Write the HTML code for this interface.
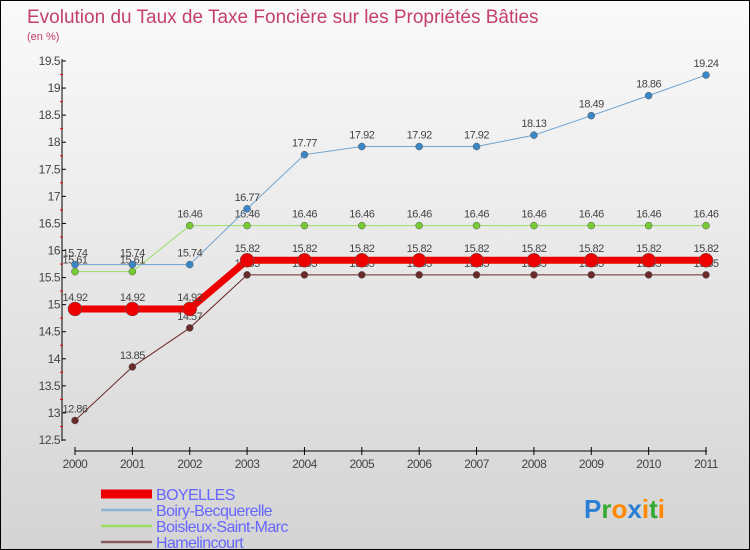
<!DOCTYPE html>
<html><head><meta charset="utf-8"><style>
body{margin:0;}
#c{width:748px;height:548px;border:1px solid #000;background:linear-gradient(#fafafa,#d4d4d4);position:relative;font-family:"Liberation Sans",sans-serif;overflow:hidden}
</style></head><body>
<div id="c">
<svg id="s" width="748" height="548" xmlns="http://www.w3.org/2000/svg"></svg>
</div>
<script>
const years=["2000","2001","2002","2003","2004","2005","2006","2007","2008","2009","2010","2011"];
const boyelles=[14.92,14.92,14.92,15.82,15.82,15.82,15.82,15.82,15.82,15.82,15.82,15.82];
const boiry=[15.74,15.74,15.74,16.77,17.77,17.92,17.92,17.92,18.13,18.49,18.86,19.24];
const boisleux=[15.61,15.61,16.46,16.46,16.46,16.46,16.46,16.46,16.46,16.46,16.46,16.46];
const hamel=[12.86,13.85,14.57,15.55,15.55,15.55,15.55,15.55,15.55,15.55,15.55,15.55];
const yTicks=["12.5","13","13.5","14","14.5","15","15.5","16","16.5","17","17.5","18","18.5","19","19.5"];
const names=["BOYELLES","Boiry-Becquerelle","Boisleux-Saint-Marc","Hamelincourt"];
const s=document.getElementById('s');const NS="http://www.w3.org/2000/svg";
function X(i){return 74+i*(705-74)/11;}
function Y(v){return 439-(v-12.5)*(439-60)/7;}
function el(t,a,p){const e=document.createElementNS(NS,t);for(const k in a)e.setAttribute(k,a[k]);(p||s).appendChild(e);return e;}
function tx(x,y,str,a){const e=el('text',Object.assign({x:x,y:y},a));e.textContent=str;return e;}
let t=tx(26,22,"Evolution du Taux de Taxe Foncière sur les Propriétés Bâties",{fill:"#c4406a","font-size":"19"});


t=tx(26,39,"(en %)",{fill:"#c4406a","font-size":"11"});


let ax=el('line',{x1:61,y1:58,x2:61,y2:440,stroke:"#000"});


yTicks.forEach((v,i)=>{const y=Y(+v);
el('line',{x1:61,y1:y,x2:65,y2:y,stroke:"#000"});
if(i<yTicks.length-1)el('line',{x1:59,y1:Y(+v+0.25),x2:62,y2:Y(+v+0.25),stroke:"#e00"});
const l=tx(59,y+4,v,{"text-anchor":"end","font-size":"12",fill:"#444","letter-spacing":"-0.5"});

});
ax=el('line',{x1:74,y1:450,x2:706,y2:450,stroke:"#000"});


years.forEach((y,i)=>{el('line',{x1:X(i),y1:446,x2:X(i),y2:454,stroke:"#000"});
const l=tx(X(i),467,y,{"text-anchor":"middle","font-size":"12",fill:"#444","letter-spacing":"-0.5"});

});
const series=[
 {d:hamel,c:"#6b2a2a",w:1,r:3.5,n:"hamelincourt"},
 {d:boisleux,c:"#99dd66",w:1,r:3.5,fill:"#77cc33",n:"boisleux"},
 {d:boiry,c:"#6fa3d0",w:1,r:3.5,fill:"#3a87c8",n:"boiry"},
 {d:boyelles,c:"#ee0000",w:7,r:7,n:"boyelles"}];
series.forEach(sr=>{
 const p=el('polyline',{points:sr.d.map((v,i)=>X(i)+","+Y(v)).join(" "),fill:"none",stroke:sr.c,"stroke-width":sr.w});
 
 
 sr.d.forEach((v,i)=>{const c=el('circle',{cx:X(i),cy:Y(v),r:sr.r,fill:sr.fill||sr.c,stroke:"#555","stroke-width":0.5});
  
  
  const l=tx(X(i),Y(v)-8,String(v),{"text-anchor":"middle","font-size":"11",fill:"#444","letter-spacing":"-0.5"});
  
  });
});
const lc=["#ee0000","#8ab4d4","#99dd66","#8b5a5a"],lw=[9,2.5,2.5,2.5];
names.forEach((n,i)=>{const y=493+i*16;
 el('line',{x1:100,y1:y,x2:151,y2:y,stroke:lc[i],"stroke-width":lw[i]});
 const l=tx(155,y+6,n,{"font-size":"16",fill:"#6666ff","letter-spacing":"-0.6"});
 
 });
const g=el('text',{x:583,y:517,"font-size":"26","font-weight":"bold"});


[["P","#2a7fd4"],["r","#33aa33"],["o","#ff8800"],["x","#2a7fd4"],["i","#ff8800"],["t","#33aa33"],["i","#ff8800"]].forEach(([ch,c])=>{const ts=el('tspan',{fill:c},g);ts.textContent=ch;});
</script>
</body></html>
